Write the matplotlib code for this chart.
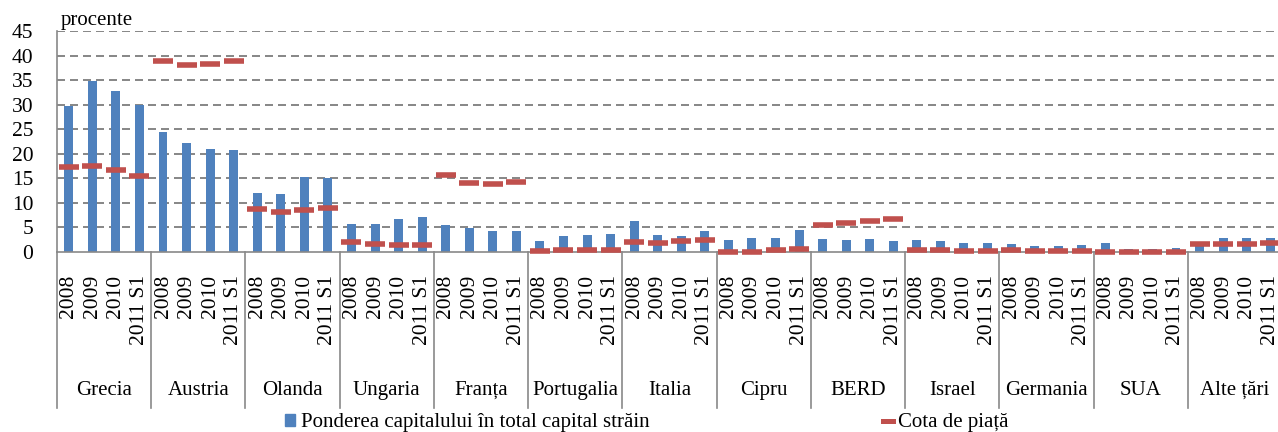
import numpy as np
import matplotlib
matplotlib.use("Agg")
import matplotlib.pyplot as plt
from matplotlib.patches import Patch
from matplotlib.lines import Line2D

plt.rcParams['font.family'] = ['Liberation Serif', 'DejaVu Serif']

# date
tari = ["Grecia", "Austria", "Olanda", "Ungaria", "Franța", "Portugalia", "Italia",
        "Cipru", "BERD", "Israel", "Germania", "SUA", "Alte țări"]
ani = ["2008", "2009", "2010", "2011 S1"]

pondere = [29.7, 34.9, 32.8, 30.0,
           24.4, 22.1, 21.0, 20.8,
           12.1, 11.8, 15.2, 15.0,
           5.6, 5.6, 6.7, 7.2,
           5.4, 4.9, 4.2, 4.2,
           2.3, 3.3, 3.5, 3.7,
           6.3, 3.5, 3.3, 4.2,
           2.5, 2.9, 2.9, 4.4,
           2.7, 2.45, 2.6, 2.3,
           2.45, 2.2, 1.8, 1.8,
           1.6, 1.3, 1.3, 1.4,
           1.8, 0.6, 0.6, 0.9,
           1.9, 2.9, 2.9, 2.9]

cota = [17.4, 17.6, 16.7, 15.5,
        38.8, 38.1, 38.3, 38.9,
        8.85, 8.2, 8.5, 8.9,
        2.0, 1.7, 1.5, 1.4,
        15.7, 14.1, 13.9, 14.2,
        0.3, 0.5, 0.5, 0.5,
        2.0, 1.9, 2.2, 2.45,
        0.0, 0.1, 0.35, 0.55,
        5.4, 5.85, 6.3, 6.7,
        0.4, 0.4, 0.3, 0.3,
        0.35, 0.3, 0.2, 0.3,
        0.05, 0.05, 0.05, 0.05,
        1.55, 1.55, 1.6, 1.8]

albastru = "#4F81BD"
rosu = "#C0504D"
gri = "#898989"

W, H = 1278, 432
fig = plt.figure(figsize=(W/100, H/100), dpi=100)
ax = fig.add_axes([57/W, 1-252/H, (1282-57)/W, 221/H])

x = np.arange(len(pondere))
ax.bar(x, pondere, width=0.38, color=albastru, zorder=2)
ax.plot(x, cota, linestyle='none', marker='_', markersize=14.4, mew=4,
        color=rosu, zorder=3, clip_on=False)

ax.set_xlim(-0.5, len(pondere)-0.5)
ax.set_ylim(0, 45)
ax.set_yticks(range(0, 50, 5))
ax.tick_params(axis='y', length=0, pad=17, labelsize=15.5)
ax.set_xticks(x, labels=ani*len(tari), rotation=90, fontsize=15.5, va='top')
ax.tick_params(axis='x', length=0, pad=16.5)

for y in range(5, 50, 5):
    ax.axhline(y, color=gri, lw=1.44, linestyle=(0, (4, 2.5)), zorder=1)

for s in ['top', 'right']:
    ax.spines[s].set_visible(False)
for s in ['left', 'bottom']:
    ax.spines[s].set_color(gri)
    ax.spines[s].set_linewidth(1.2)

# separatoare si etichete de grup
tr = ax.get_xaxis_transform()
for k in range(len(tari)+1):
    ax.plot([k*4-0.5, k*4-0.5], [0, -0.706], color=gri, lw=1.2,
            transform=tr, clip_on=False)
for k, t in enumerate(tari):
    ax.text(k*4+1.5, -0.647, t, transform=tr, ha='center', va='baseline', fontsize=15)

fig.text(61/W, 1-25/H, "procente", fontsize=15, va='baseline', ha='left')

handles = [Patch(color=albastru), Line2D([], [], color=rosu, lw=3.6)]
fig.legend(handles, ["Ponderea capitalului în total capital străin", "Cota de piață"],
           loc='center left', bbox_to_anchor=(285/W, 1-423/H), ncol=2, frameon=False,
           fontsize=15, handlelength=0.5, handleheight=0.5, handletextpad=0.25,
           columnspacing=11.2, borderpad=0, borderaxespad=0)

fig.savefig("out.png", dpi=100)
